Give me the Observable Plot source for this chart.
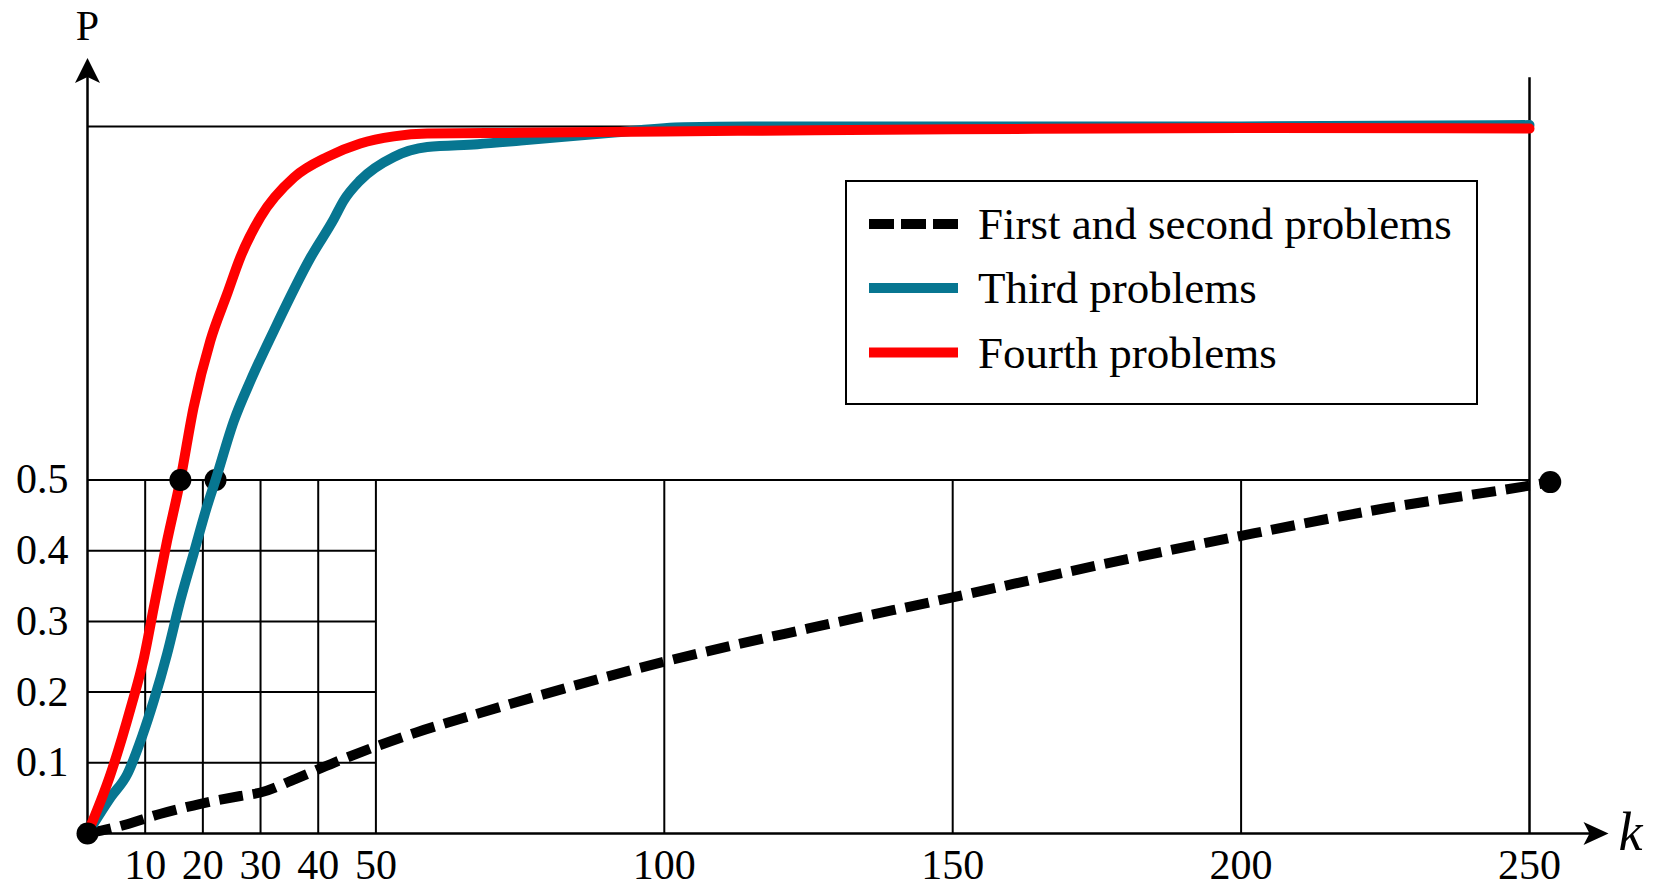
<!DOCTYPE html>
<html>
<head>
<meta charset="utf-8">
<script src="https://cdn.jsdelivr.net/npm/d3@7"></script>
<script src="https://cdn.jsdelivr.net/npm/@observablehq/plot@0.6"></script>
<style>
  html, body { margin: 0; padding: 0; background: #fff; overflow: hidden; }
  #wrap { position: relative; width: 1665px; height: 885px; }
  #legend { position: absolute; left: 845px; top: 180px; width: 629px; height: 221px;
            border: 2px solid #000; background: #fff; }
  #legend svg { display: block; }
</style>
</head>
<body>
<div id="wrap"></div>
<script>
// ---------- data ----------
const seriesNames = ["First and second problems", "Third problems", "Fourth problems"];

const firstK = [0, 5, 12.7, 19.6, 26.5, 30, 36, 42.7, 50, 57, 65, 82.6, 100, 125, 150, 175, 200, 225, 250, 253.6];
const firstP = [0, 0.009, 0.028, 0.042, 0.053, 0.058, 0.077, 0.1, 0.123, 0.143, 0.163, 0.205, 0.243, 0.29, 0.334, 0.379, 0.421, 0.46, 0.492, 0.497];

const thirdK = [0, 4, 6.9, 9.5, 11.5, 13.8, 16.1, 18.4, 20.7, 22.2, 25.4, 28.3, 32.3, 38.7, 42.7, 44.4, 47.3, 53.1, 58.9, 67.6, 75.1, 91.8, 103.4, 115, 150, 200, 250];
const thirdP = [0, 0.051, 0.084, 0.138, 0.188, 0.254, 0.33, 0.396, 0.462, 0.5, 0.584, 0.641, 0.711, 0.815, 0.869, 0.895, 0.924, 0.957, 0.971, 0.975, 0.98, 0.992, 0.999, 1.0, 1.0, 1.0, 1.002];

const fourthK = [0, 4, 7.5, 9.8, 11.5, 13.8, 16.1, 18.4, 21.3, 24.2, 26.5, 30, 35.8, 41.6, 47.3, 53.1, 58.9, 75, 100, 115, 150, 200, 250];
const fourthP = [0, 0.084, 0.178, 0.249, 0.32, 0.414, 0.5, 0.603, 0.697, 0.763, 0.815, 0.872, 0.928, 0.957, 0.976, 0.986, 0.99, 0.991, 0.993, 0.994, 0.996, 0.998, 0.997];

// marked points (origin, P = 0.5 crossings, end of dashed curve)
const markK = [0, 16.1, 22.2, 253.6];
const markP = [0, 0.5, 0.5, 0.497];

const xTicks = [10, 20, 30, 40, 50, 100, 150, 200, 250];
const xTickLabels = ["10", "20", "30", "40", "50", "100", "150", "200", "250"];
const yTicks = [0.1, 0.2, 0.3, 0.4, 0.5];
const yTickLabels = ["0.1", "0.2", "0.3", "0.4", "0.5"];
const fineGridX = [10, 20, 30, 40, 50];
const coarseGridX = [100, 150, 200];

// ---------- layout constants (axis geometry, not data) ----------
const kMax = 250, pTop = 1;
const fineGridK = 50, halfP = 0.5;
const frameTopP = 1.069;      // top of the k = 250 frame line
const yArrowTipP = 1.097;     // tip of the P-axis arrow
const xArrowTipK = 263.7;     // tip of the k-axis arrow
const pLabelP = 1.122, kLabelK = 267.5, kLabelP = -0.023;

const TEAL = "#077691", RED = "#ff0000", INK = "#000";
const FONT = "'Liberation Serif', 'Times New Roman', serif";

// ---------- build tables ----------
const rows = (ks, ps) => ks.map((k, i) => ({k, p: ps[i]}));
const first = rows(firstK, firstP);
const third = rows(thirdK, thirdP);
const fourth = rows(fourthK, fourthP);
const marks = rows(markK, markP);

// stealth arrow heads with the tip at the anchor point
const arrowUp = {draw(c) { c.moveTo(0, 0); c.lineTo(12.5, 25); c.lineTo(0, 19); c.lineTo(-12.5, 25); c.closePath(); }};
const arrowRight = {draw(c) { c.moveTo(0, 0); c.lineTo(-25, -11.5); c.lineTo(-19, 0); c.lineTo(-25, 11.5); c.closePath(); }};

const chart = Plot.plot({
  width: 1665,
  height: 885,
  marginLeft: 87,
  marginRight: 136,
  marginTop: 126,
  marginBottom: 52,
  x: {domain: [0, kMax], axis: null},
  y: {domain: [0, pTop], axis: null},
  style: {fontFamily: FONT, fontSize: "42px", background: "#fff", color: INK, overflow: "visible"},
  marks: [
    // fine grid in the lower-left corner
    Plot.ruleY(yTicks.slice(0, 4), {y: d => d, x1: 0, x2: fineGridK, stroke: INK, strokeWidth: 2}),
    Plot.ruleX(fineGridX, {x: d => d, y1: 0, y2: halfP, stroke: INK, strokeWidth: 2}),
    Plot.ruleX(coarseGridX, {x: d => d, y1: 0, y2: halfP, stroke: INK, strokeWidth: 2}),
    Plot.ruleY([halfP], {y: d => d, x1: 0, x2: kMax, stroke: INK, strokeWidth: 2}),
    Plot.ruleY([pTop], {y: d => d, x1: 0, x2: kMax, stroke: INK, strokeWidth: 2}),
    Plot.ruleX([kMax], {x: d => d, y1: 0, y2: frameTopP, stroke: INK, strokeWidth: 2.5}),
    // axes with arrows
    Plot.ruleX([0], {x: d => d, y1: 0, y2: yArrowTipP - 0.02, stroke: INK, strokeWidth: 2.5}),
    Plot.ruleY([0], {y: d => d, x1: 0, x2: xArrowTipK - 3, stroke: INK, strokeWidth: 2.5}),
    Plot.dot([{k: 0, p: yArrowTipP}], {x: "k", y: "p", symbol: arrowUp, r: 10, fill: INK, stroke: "none"}),
    Plot.dot([{k: xArrowTipK, p: 0}], {x: "k", y: "p", symbol: arrowRight, r: 10, fill: INK, stroke: "none"}),
    // curves
    Plot.line(first, {x: "k", y: "p", stroke: INK, strokeWidth: 10, strokeDasharray: "24,10",
                      strokeLinecap: "butt", curve: "monotone-x"}),
    Plot.dot(marks.filter((d, i) => i === 2), {x: "k", y: "p", r: 11, fill: INK, stroke: "none"}),
    Plot.line(third, {x: "k", y: "p", stroke: TEAL, strokeWidth: 10, curve: "monotone-x"}),
    Plot.line(fourth, {x: "k", y: "p", stroke: RED, strokeWidth: 10, curve: "monotone-x"}),
    Plot.dot(marks.filter((d, i) => i !== 2), {x: "k", y: "p", r: 11, fill: INK, stroke: "none"}),
    // tick labels
    Plot.text(xTicks, {x: d => d, y: () => 0, dy: 32, text: (d, i) => xTickLabels[i],
                       lineAnchor: "middle", textAnchor: "middle", fontSize: 42, fill: INK}),
    Plot.text(yTicks, {x: () => 0, y: d => d, dx: -19, text: (d, i) => yTickLabels[i],
                       lineAnchor: "middle", textAnchor: "end", fontSize: 42, fill: INK}),
    // axis names
    Plot.text(["P"], {x: () => 0, y: () => pLabelP, text: d => d, lineAnchor: "bottom",
                      textAnchor: "middle", fontSize: 42, fill: INK}),
    Plot.text(["k"], {x: () => kLabelK, y: () => kLabelP, text: d => d, lineAnchor: "bottom",
                      textAnchor: "middle", fontSize: 54, fontStyle: "italic", fill: INK})
  ]
});

const wrap = document.getElementById("wrap");
wrap.appendChild(chart);

// ---------- legend (inside the plot area, as in the reference) ----------
const legendStyles = [
  {stroke: INK, dash: "25,7"},
  {stroke: TEAL, dash: null},
  {stroke: RED, dash: null}
];
const legend = document.createElement("div");
legend.id = "legend";
const ns = "http://www.w3.org/2000/svg";
const lsvg = document.createElementNS(ns, "svg");
lsvg.setAttribute("width", 629);
lsvg.setAttribute("height", 221);
const rowY = [42, 106, 170.5];
seriesNames.forEach((name, i) => {
  const ln = document.createElementNS(ns, "line");
  ln.setAttribute("x1", 22); ln.setAttribute("x2", 111);
  ln.setAttribute("y1", rowY[i]); ln.setAttribute("y2", rowY[i]);
  ln.setAttribute("stroke", legendStyles[i].stroke);
  ln.setAttribute("stroke-width", 10);
  if (legendStyles[i].dash) ln.setAttribute("stroke-dasharray", legendStyles[i].dash);
  lsvg.appendChild(ln);
  const tx = document.createElementNS(ns, "text");
  tx.setAttribute("x", 131);
  tx.setAttribute("y", rowY[i]);
  tx.setAttribute("dominant-baseline", "central");
  tx.setAttribute("font-family", FONT);
  tx.setAttribute("font-size", 45);
  tx.setAttribute("fill", INK);
  tx.textContent = name;
  lsvg.appendChild(tx);
});
legend.appendChild(lsvg);
wrap.appendChild(legend);
</script>
</body>
</html>
